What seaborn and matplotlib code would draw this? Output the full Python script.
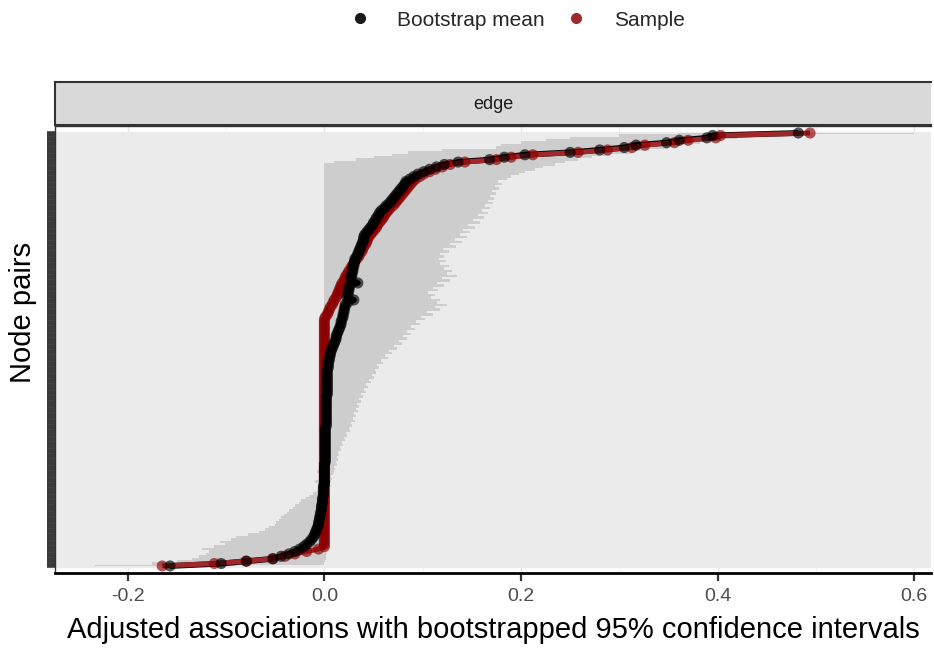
import numpy as np
import pandas as pd
import matplotlib
matplotlib.use("Agg")
import matplotlib.pyplot as plt
import seaborn as sns
from matplotlib.lines import Line2D

# ---------------- data (edges ordered by sample value, bottom -> top) ----------------
sample = [
    -0.165, -0.112, -0.080, -0.053, -0.040, -0.030, -0.018, -0.006, 0.0, 0.0,
    0.0, 0.0, 0.0, 0.0, 0.0, 0.0, 0.0, 0.0, 0.0, 0.0,
    0.0, 0.0, 0.0, 0.0, 0.0, 0.0, 0.0, 0.0, 0.0, 0.0,
    0.0, 0.0, 0.0, 0.0, 0.0, 0.0, 0.0, 0.0, 0.0, 0.0,
    0.0, 0.0, 0.0, 0.0, 0.0, 0.0, 0.0, 0.0, 0.0, 0.0,
    0.0, 0.0, 0.0, 0.0, 0.0, 0.0, 0.0, 0.0, 0.0, 0.0,
    0.0, 0.0, 0.0, 0.0, 0.0, 0.0, 0.0, 0.0, 0.0, 0.0,
    0.0, 0.0, 0.0, 0.0, 0.0, 0.0, 0.0, 0.0, 0.0, 0.0,
    0.0, 0.0, 0.0, 0.0, 0.0, 0.0, 0.0, 0.0, 0.0, 0.0,
    0.0, 0.0, 0.0, 0.0, 0.0, 0.0, 0.0, 0.0, 0.0, 0.0,
    0.0, 0.0, 0.0, 0.001, 0.003, 0.004, 0.005, 0.006, 0.008, 0.009,
    0.010, 0.012, 0.013, 0.014, 0.015, 0.016, 0.017, 0.018, 0.020, 0.021,
    0.022, 0.024, 0.025, 0.027, 0.028, 0.030, 0.031, 0.033, 0.035, 0.036,
    0.038, 0.039, 0.040, 0.042, 0.043, 0.044, 0.045, 0.047, 0.049, 0.051,
    0.053, 0.054, 0.056, 0.058, 0.060, 0.061, 0.063, 0.065, 0.067, 0.070,
    0.072, 0.074, 0.076, 0.078, 0.080, 0.082, 0.084, 0.086, 0.088, 0.090,
    0.093, 0.097, 0.101, 0.107, 0.113, 0.120, 0.128, 0.143, 0.175, 0.190,
    0.212, 0.258, 0.288, 0.313, 0.326, 0.356, 0.370, 0.398, 0.403, 0.494,
]

boot_mean = [
    -0.157, -0.105, -0.079, -0.052, -0.044, -0.036, -0.030, -0.025, -0.021, -0.018,
    -0.015, -0.013, -0.011, -0.010, -0.009, -0.008, -0.007, -0.006, -0.006, -0.005,
    -0.005, -0.004, -0.004, -0.003, -0.003, -0.003, -0.002, -0.002, -0.002, -0.001,
    -0.001, -0.001, -0.001, -0.001, 0.000, 0.000, 0.000, 0.000, 0.000, 0.000,
    0.000, 0.000, 0.000, 0.001, 0.001, 0.001, 0.001, 0.001, 0.001, 0.001,
    0.001, 0.001, 0.001, 0.001, 0.001, 0.001, 0.001, 0.001, 0.002, 0.002,
    0.002, 0.002, 0.002, 0.002, 0.002, 0.002, 0.002, 0.002, 0.002, 0.002,
    0.002, 0.003, 0.003, 0.003, 0.003, 0.003, 0.003, 0.003, 0.003, 0.003,
    0.003, 0.003, 0.004, 0.004, 0.004, 0.005, 0.005, 0.006, 0.006, 0.007,
    0.008, 0.009, 0.010, 0.011, 0.012, 0.012, 0.013, 0.014, 0.015, 0.016,
    0.017, 0.017, 0.018, 0.019, 0.019, 0.020, 0.020, 0.021, 0.021, 0.024,
    0.030, 0.023, 0.024, 0.024, 0.025, 0.025, 0.026, 0.034, 0.027, 0.027,
    0.028, 0.028, 0.029, 0.029, 0.030, 0.030, 0.031, 0.031, 0.033, 0.034,
    0.035, 0.036, 0.037, 0.038, 0.039, 0.040, 0.040, 0.041, 0.043, 0.045,
    0.047, 0.049, 0.050, 0.052, 0.053, 0.055, 0.056, 0.058, 0.061, 0.063,
    0.066, 0.068, 0.070, 0.072, 0.074, 0.076, 0.078, 0.080, 0.082, 0.083,
    0.087, 0.091, 0.095, 0.101, 0.107, 0.114, 0.122, 0.136, 0.168, 0.183,
    0.204, 0.250, 0.280, 0.305, 0.317, 0.348, 0.361, 0.389, 0.395, 0.482,
]

ci_lower = [
    -0.233, -0.175, -0.150, -0.135, -0.128, -0.120, -0.117, -0.124, -0.112, -0.101,
    -0.106, -0.095, -0.090, -0.078, -0.066, -0.060, -0.056, -0.050, -0.049, -0.046,
    -0.044, -0.041, -0.038, -0.036, -0.032, -0.030, -0.026, -0.024, -0.019, -0.016,
    -0.012, -0.008, -0.005, -0.002, 0.0, -0.010, 0.0, 0.0, -0.002, -0.008,
    0.0, 0.0, 0.0, 0.0, 0.0, 0.0, 0.0, 0.0, 0.0, 0.0,
    0.0, 0.0, 0.0, 0.0, 0.0, 0.0, 0.0, 0.0, 0.0, 0.0,
    0.0, 0.0, 0.0, 0.0, 0.0, 0.0, 0.0, 0.0, 0.0, 0.0,
    0.0, 0.0, 0.0, 0.0, 0.0, 0.0, 0.0, 0.0, 0.0, 0.0,
    0.0, 0.0, 0.0, 0.0, 0.0, 0.0, 0.0, 0.0, 0.0, 0.0,
    0.0, 0.0, 0.0, 0.0, 0.0, 0.0, 0.0, 0.0, 0.0, 0.0,
    0.0, 0.0, 0.0, 0.0, 0.0, 0.0, 0.0, 0.0, 0.0, 0.0,
    0.0, 0.0, 0.0, 0.0, 0.0, 0.0, 0.0, 0.0, 0.0, 0.0,
    0.0, 0.0, 0.0, 0.0, 0.0, 0.0, 0.0, 0.0, 0.0, 0.0,
    0.0, 0.0, 0.0, 0.0, 0.0, 0.0, 0.0, 0.0, 0.0, 0.0,
    0.0, 0.0, 0.0, 0.0, 0.0, 0.0, 0.0, 0.0, 0.0, 0.0,
    0.0, 0.0, 0.0, 0.0, 0.0, 0.0, 0.0, 0.0, 0.0, 0.0,
    0.0, 0.0, 0.0, 0.0, 0.0, 0.0, 0.0, 0.010, 0.032, 0.050,
    0.069, 0.085, 0.120, 0.175, 0.180, 0.200, 0.225, 0.250, 0.300, 0.360,
]

ci_upper = [
    -0.090, 0.000, 0.001, 0.002, 0.002, 0.003, 0.002, 0.003, 0.003, 0.002,
    0.003, 0.004, 0.003, 0.004, 0.004, 0.003, 0.004, 0.005, 0.004, 0.004,
    0.005, 0.004, 0.005, 0.005, 0.004, 0.005, 0.006, 0.005, 0.005, 0.006,
    0.005, 0.006, 0.006, 0.007, 0.006, 0.007, 0.008, 0.007, 0.009, 0.010,
    0.011, 0.010, 0.013, 0.012, 0.014, 0.013, 0.015, 0.014, 0.017, 0.016,
    0.019, 0.018, 0.021, 0.020, 0.023, 0.022, 0.026, 0.025, 0.028, 0.027,
    0.031, 0.029, 0.032, 0.030, 0.034, 0.032, 0.035, 0.033, 0.037, 0.035,
    0.039, 0.037, 0.042, 0.040, 0.044, 0.042, 0.047, 0.045, 0.050, 0.048,
    0.053, 0.051, 0.056, 0.054, 0.060, 0.058, 0.065, 0.062, 0.069, 0.066,
    0.074, 0.071, 0.079, 0.076, 0.084, 0.080, 0.088, 0.084, 0.092, 0.088,
    0.097, 0.093, 0.102, 0.098, 0.110, 0.104, 0.118, 0.112, 0.125, 0.115,
    0.118, 0.108, 0.113, 0.105, 0.116, 0.110, 0.122, 0.115, 0.128, 0.120,
    0.135, 0.125, 0.130, 0.122, 0.127, 0.118, 0.124, 0.117, 0.122, 0.118,
    0.127, 0.121, 0.134, 0.128, 0.140, 0.133, 0.145, 0.138, 0.148, 0.141,
    0.153, 0.146, 0.158, 0.151, 0.162, 0.156, 0.166, 0.160, 0.168, 0.163,
    0.171, 0.166, 0.173, 0.168, 0.175, 0.170, 0.178, 0.174, 0.181, 0.177,
    0.186, 0.190, 0.198, 0.204, 0.214, 0.222, 0.235, 0.245, 0.258, 0.272,
    0.290, 0.313, 0.330, 0.350, 0.362, 0.382, 0.400, 0.420, 0.440, 0.600,
]

x_ticks = [-0.2, 0.0, 0.2, 0.4, 0.6]
x_tick_labels = ["-0.2", "0.0", "0.2", "0.4", "0.6"]
series_names = ["Bootstrap mean", "Sample"]
series_colors = {"Bootstrap mean": "#000000", "Sample": "#8B0000"}

# ---------------- build long table ----------------
n_edges = len(sample)
edge_pos = np.arange(n_edges)
df = pd.concat([
    pd.DataFrame({"edge": edge_pos, "value": sample, "type": "Sample"}),
    pd.DataFrame({"edge": edge_pos, "value": boot_mean, "type": "Bootstrap mean"}),
], ignore_index=True)

# ---------------- figure ----------------
sns.set_theme(style="white")
plt.rcParams["font.family"] = ["Liberation Sans", "DejaVu Sans"]

W, H = 934, 650
fig = plt.figure(figsize=(W / 100, H / 100), dpi=100)
px_l, px_r, px_t, px_b = 55, 931, 126, 573
ax = fig.add_axes([px_l / W, 1 - px_b / H, (px_r - px_l) / W, (px_b - px_t) / H])
ax.set_facecolor("white")

ax.set_xlim(-0.274, 0.617)
pad = 2.9
ax.set_ylim(-pad, n_edges - 1 + pad)

# grid (theme_bw like: one grey92 line per node pair)
ax.set_axisbelow(True)
ax.set_yticks(edge_pos)
ax.set_xticks(x_ticks)
ax.set_xticklabels(x_tick_labels)
ax.set_xticks([-0.1, 0.1, 0.3, 0.5], minor=True)
ax.grid(axis="y", which="major", color="#EBEBEB", linewidth=2.3)
ax.grid(axis="x", which="major", color="#E6E6E6", linewidth=1.0)
ax.grid(axis="x", which="minor", color="#F0F0F0", linewidth=0.6)

# CI ribbon
ax.fill_betweenx(edge_pos, ci_lower, ci_upper, step="mid", color="#CDCDCD", linewidth=0, zorder=2)

# lines
ax.plot(boot_mean, edge_pos, color="black", linewidth=4.2, zorder=3, solid_capstyle="butt")
ax.plot(sample, edge_pos, color="#A0282B", linewidth=3.6, zorder=4, solid_capstyle="butt")

# points (sample first, mean on top)
sns.scatterplot(data=df, x="value", y="edge", hue="type", palette=series_colors,
                hue_order=series_names, s=64, alpha=0.65, linewidth=0,
                legend=False, ax=ax, zorder=5)

# axes styling
ax.tick_params(axis="x", which="major", direction="out", length=6, width=1.6,
               color="#333333", labelsize=14, labelcolor="#4D4D4D", pad=5, bottom=True)
ax.tick_params(axis="x", which="minor", length=0)
ax.tick_params(axis="y", direction="out", length=5.5, width=2.6, color="#3A3A3A",
               labelleft=False, left=True)
ax.spines["right"].set_visible(False)
ax.spines["top"].set_color("#333333")
ax.spines["top"].set_linewidth(1.0)
ax.spines["left"].set_color("#333333")
ax.spines["left"].set_linewidth(1.0)
ax.spines["bottom"].set_color("black")
ax.spines["bottom"].set_linewidth(2.0)

ax.set_xlabel("Adjusted associations with bootstrapped 95% confidence intervals",
              fontsize=21, color="black")
ax.xaxis.set_label_coords(0.5, (px_b - 616) / (px_b - px_t))
ax.set_ylabel("Node pairs", fontsize=21, color="black")
ax.yaxis.set_label_coords((37 - px_l) / (px_r - px_l), (px_b - 312) / (px_b - px_t))

# facet strip
st_t, st_b = 82, 125
sax = fig.add_axes([px_l / W, 1 - st_b / H, (px_r - px_l) / W, (st_b - st_t) / H])
sax.set_facecolor("#D9D9D9")
sax.set_xticks([])
sax.set_yticks([])
for s in ["left", "top", "bottom"]:
    sax.spines[s].set_color("#333333")
    sax.spines[s].set_linewidth(1.5)
sax.spines["right"].set_visible(False)
sax.text(0.5, 0.47, "edge", transform=sax.transAxes, ha="center", va="center",
         fontsize=13, color="#1A1A1A")

# legend at top
handles = [
    Line2D([], [], marker="o", linestyle="", color="#1A1A1A", markersize=7),
    Line2D([], [], marker="o", linestyle="", color="#A0282B", markersize=7),
]
fig.legend(handles, series_names, loc="center", bbox_to_anchor=(0.548, 1 - 20 / H),
           ncol=2, frameon=False, fontsize=15, handletextpad=0.8, columnspacing=0.5)

fig.savefig("out.png", dpi=100)
